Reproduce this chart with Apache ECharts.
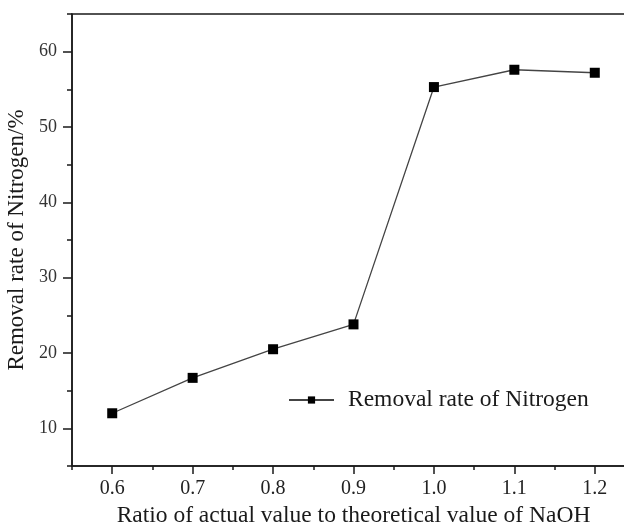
<!DOCTYPE html>
<html>
<head>
<meta charset="utf-8">
<script src="https://cdn.jsdelivr.net/npm/echarts@6/dist/echarts.min.js"></script>
<style>
html,body{margin:0;padding:0;background:#fff;}
#chart{width:624px;height:531px;}
</style>
</head>
<body>
<div id="chart"></div>
<script>
// Data
const ratios = [0.6, 0.7, 0.8, 0.9, 1.0, 1.1, 1.2];
const removalRate = [12.0, 16.7, 20.5, 23.8, 55.3, 57.6, 57.2];
const xMajorTicks = [0.6, 0.7, 0.8, 0.9, 1.0, 1.1, 1.2];
const xMinorTicks = [0.55, 0.65, 0.75, 0.85, 0.95, 1.05, 1.15, 1.25];
const yMajorTicks = [10, 20, 30, 40, 50, 60];
const yMinorTicks = [5, 15, 25, 35, 45, 55, 65];
const seriesName = 'Removal rate of Nitrogen';
const xTitle = 'Ratio of actual value to theoretical value of NaOH';
const yTitle = 'Removal rate of Nitrogen/%';

const FONT = '"Liberation Serif", "Times New Roman", serif';
const chart = echarts.init(document.getElementById('chart'), null, {renderer: 'canvas'});

const points = ratios.map((x, i) => [x, removalRate[i]]);

chart.setOption({
  animation: false,
  backgroundColor: '#ffffff',
  grid: {
    left: 72, top: 14, right: -11, bottom: 65,
    outerBoundsMode: 'none', containLabel: false,
    show: true, borderColor: '#1a1a1a', borderWidth: 1.5, backgroundColor: 'transparent'
  },
  legend: {
    data: [seriesName],
    left: 288, top: 388, padding: 0,
    itemWidth: 45, itemHeight: 9,
    textStyle: {fontFamily: FONT, fontSize: 23.5, color: '#1a1a1a', padding: [0, 0, 0, 9]}
  },
  xAxis: [
    {
      type: 'value', min: 0.55, max: 1.25, position: 'bottom',
      name: xTitle, nameLocation: 'middle', nameGap: 37,
      nameTextStyle: {fontFamily: FONT, fontSize: 23.5, color: '#1a1a1a'},
      axisLine: {show: true, onZero: false, lineStyle: {color: '#1a1a1a', width: 1.5}},
      axisTick: {show: true, inside: false, length: 8, customValues: xMajorTicks,
                 lineStyle: {color: '#1a1a1a', width: 1.5}},
      axisLabel: {show: true, margin: 13, customValues: xMajorTicks,
                  fontFamily: FONT, fontSize: 20, color: '#222222',
                  formatter: v => v.toFixed(1)},
      splitLine: {show: false}
    },
    {
      type: 'value', min: 0.55, max: 1.25, position: 'bottom',
      axisLine: {show: false, onZero: false},
      axisTick: {show: true, inside: false, length: 4, customValues: xMinorTicks,
                 lineStyle: {color: '#1a1a1a', width: 1.5}},
      axisLabel: {show: false},
      splitLine: {show: false}
    }
  ],
  yAxis: [
    {
      type: 'value', min: 5, max: 65, position: 'left',
      name: yTitle, nameLocation: 'middle', nameGap: 42,
      nameTextStyle: {fontFamily: FONT, fontSize: 23, color: '#1a1a1a'},
      axisLine: {show: true, onZero: false, lineStyle: {color: '#1a1a1a', width: 1.5}},
      axisTick: {show: true, inside: false, length: 9, customValues: yMajorTicks,
                 lineStyle: {color: '#1a1a1a', width: 1.5}},
      axisLabel: {show: true, margin: 15, customValues: yMajorTicks,
                  fontFamily: FONT, fontSize: 18, color: '#333333'},
      splitLine: {show: false}
    },
    {
      type: 'value', min: 5, max: 65, position: 'left',
      axisLine: {show: false, onZero: false},
      axisTick: {show: true, inside: false, length: 5, customValues: yMinorTicks,
                 lineStyle: {color: '#1a1a1a', width: 1.5}},
      axisLabel: {show: false},
      splitLine: {show: false}
    }
  ],
  series: [{
    name: seriesName,
    type: 'line',
    xAxisIndex: 0, yAxisIndex: 0,
    data: points,
    symbol: 'rect', symbolSize: 10,
    itemStyle: {color: '#000000'},
    lineStyle: {color: '#444444', width: 1.3},
    z: 3
  }]
});
</script>
</body>
</html>
